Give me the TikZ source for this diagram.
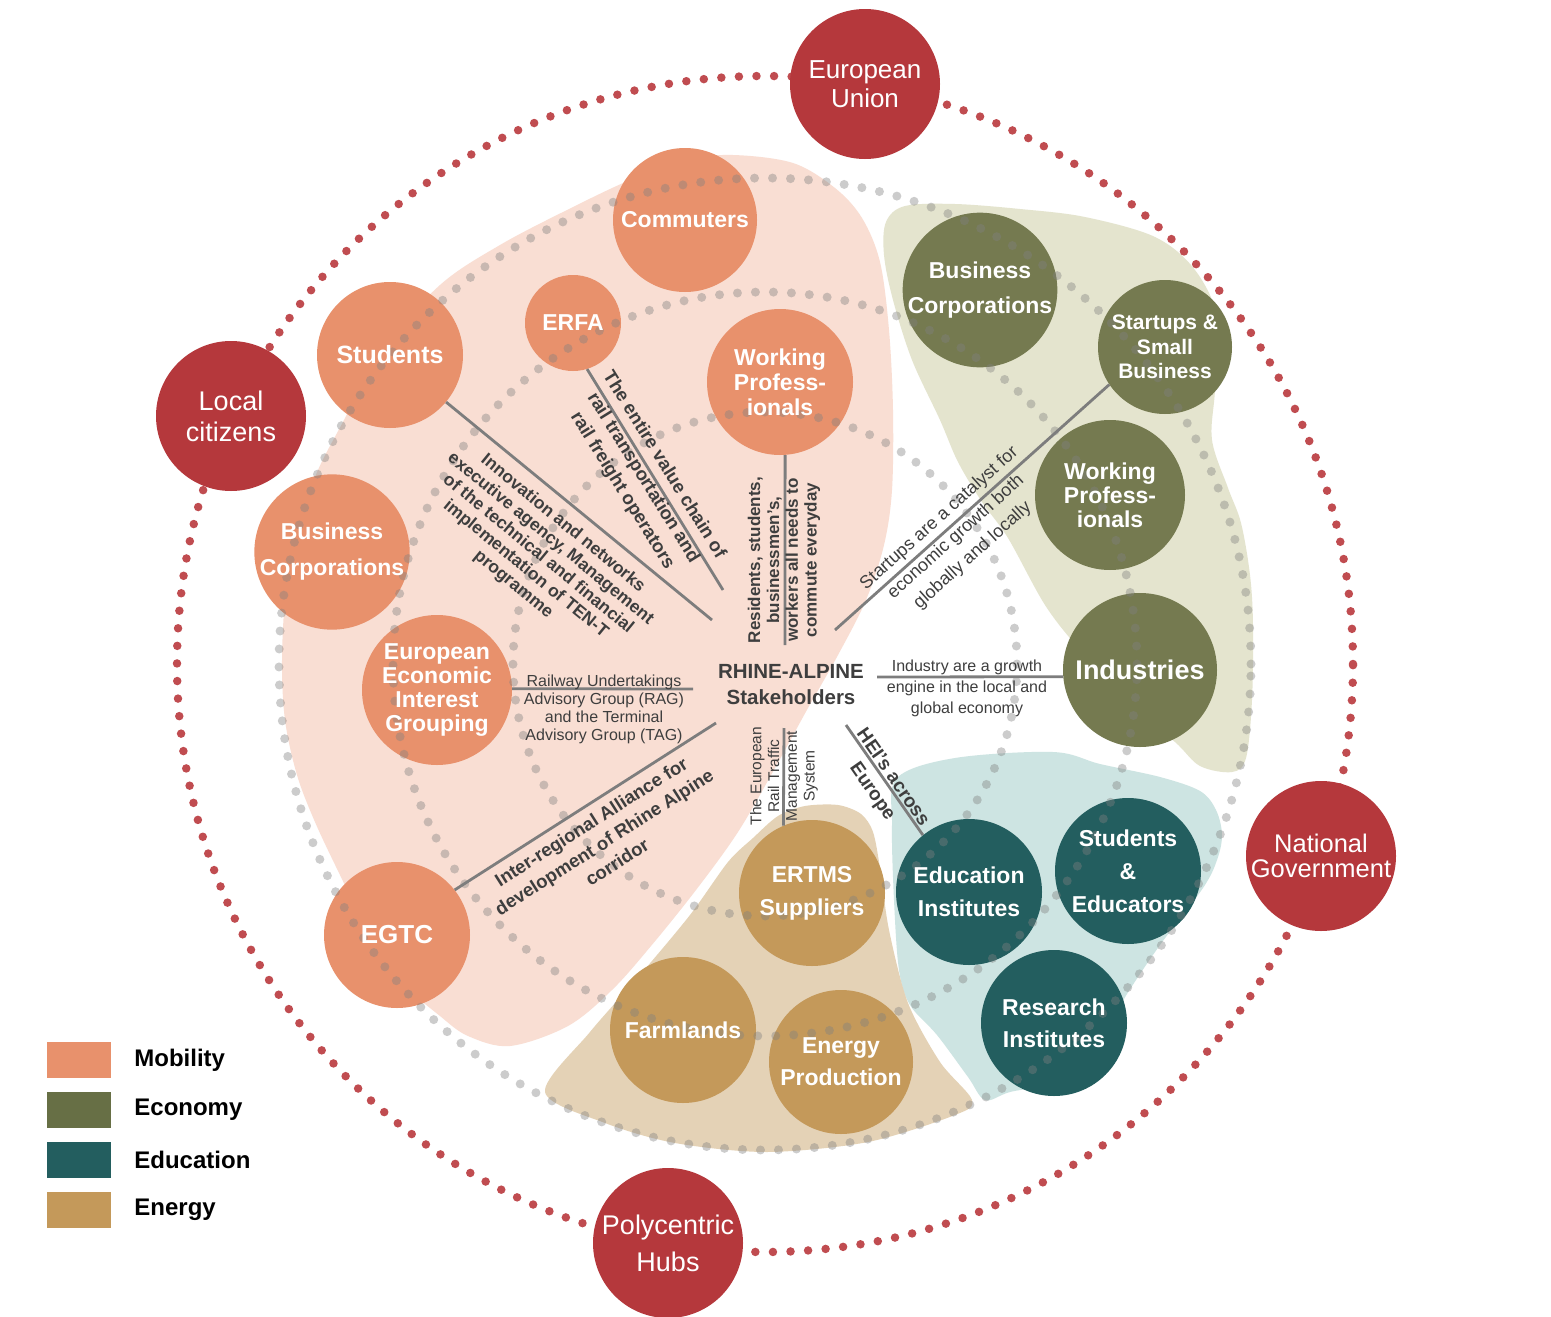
\documentclass[tikz,border=0pt]{standalone}
\usepackage{fontspec}
\setmainfont{Liberation Sans}
\usetikzlibrary{positioning, calc}

\definecolor{mobility}{RGB}{232,145,108}
\definecolor{mobilitybg}{RGB}{249,222,211}
\definecolor{economy}{RGB}{117,122,80}
\definecolor{economybg}{RGB}{228,228,206}
\definecolor{economykey}{RGB}{103,111,69}
\definecolor{education}{RGB}{35,94,95}
\definecolor{educationbg}{RGB}{205,228,226}
\definecolor{energy}{RGB}{196,153,90}
\definecolor{energybg}{RGB}{228,210,182}
\definecolor{gov}{RGB}{181,56,60}
\definecolor{govdot}{RGB}{192,76,80}
\definecolor{spokegray}{RGB}{125,125,125}
\definecolor{labelgray}{RGB}{62,62,62}

\newcommand{\pxfont}[2]{\fontsize{#1}{#2}\selectfont}

\tikzset{
  ringdots/.style={
    line width=9pt, line cap=round,
    dash pattern=on 0pt off 18pt,
    draw=black!50, draw opacity=0.40
  },
  govdots/.style={
    line width=8.5pt, line cap=round,
    dash pattern=on 0pt off 17.59pt, draw=govdot
  },
  dotsinside/.style={
    path picture={
      \foreach \ringr in {252,372,486}
        \draw[ringdots] (hubc) circle[radius=\ringr pt];
    }
  },
  stake/.style={
    circle, minimum size=146pt, inner sep=0pt,
    align=center, text=white,
    font=\bfseries\pxfont{23}{25}, dotsinside
  },
  mobnode/.style={stake, fill=mobility},
  econode/.style={stake, fill=economy},
  edunode/.style={stake, fill=education},
  enenode/.style={stake, fill=energy},
  govnode/.style={
    circle, minimum size=150pt, inner sep=0pt,
    align=center, text=white, fill=gov,
    font=\pxfont{26}{29}
  },
  spoke/.style={line width=2.8pt, draw=spokegray},
  spokelab/.style={
    text=labelgray, align=center, inner sep=0pt,
    font=\bfseries\pxfont{17.5}{19.6}
  },
  thinlab/.style={
    text=labelgray, align=center, inner sep=0pt,
    font=\pxfont{16}{18}
  },
  hubtext/.style={
    text=labelgray, align=center, inner sep=0pt,
    font=\bfseries\pxfont{20.5}{26}
  },
  keybox/.style={rectangle, minimum width=64pt, minimum height=36pt, inner sep=0pt},
  keytext/.style={font=\bfseries\pxfont{24}{26}, text=black, inner sep=0pt}
}

\begin{document}
\begin{tikzpicture}[x=1pt, y=-1pt]

\useasboundingbox (0,0) rectangle (1551,1317);
\fill[white] (0,0) rectangle (1551,1317);
\coordinate (hubc) at (765,664);

% ── Theme areas ─────────────────────────────────────────────
\fill[mobilitybg] plot[smooth cycle, tension=0.55] coordinates {
  (733,155) (793,163) (835,188) (862,218) (880,262) (889,330)
  (893,410) (892,490) (884,545) (866,600) (838,655) (808,708)
  (775,768) (738,832) (696,890) (651,946) (612,990) (568,1026)
  (510,1046) (468,1036) (440,1016) (405,985) (370,935) (340,875)
  (315,822) (297,775) (285,720) (282,660) (286,590) (298,525)
  (318,470) (344,420) (380,352) (440,285) (500,245) (567,210)
  (630,180) (685,160)};

\fill[economybg] plot[smooth cycle, tension=0.55] coordinates {
  (886,222) (905,206) (955,204) (1020,209) (1085,217) (1155,237)
  (1195,270) (1218,320) (1215,390) (1212,440) (1228,488) (1241,523)
  (1250,575) (1253,625) (1252,700) (1246,758) (1232,772) (1200,766)
  (1175,742) (1130,705) (1080,650) (1045,605) (1008,538) (982,502)
  (958,462) (940,420) (912,360) (893,300) (884,255)};

\fill[educationbg] plot[smooth cycle, tension=0.55] coordinates {
  (897,778) (955,758) (1053,752) (1100,764) (1160,777) (1200,791)
  (1216,810) (1222,835) (1217,860) (1203,888) (1160,945) (1127,994)
  (1100,1040) (1060,1080) (1010,1092) (985,1100) (968,1077)
  (937,1035) (910,1005) (899,970) (894,900) (892,825)};

\fill[energybg] plot[smooth cycle, tension=0.5] coordinates {
  (753,838) (778,816) (805,806) (838,805) (861,814) (873,832)
  (880,868) (889,930) (908,1003) (940,1062) (972,1100) (955,1115)
  (868,1142) (767,1152) (675,1143) (605,1123) (545,1092) (590,1032)
  (640,975) (690,915) (728,862)};

% ── Dotted rings ────────────────────────────────────────────
\draw[govdots] (hubc) circle[radius=588pt];
\foreach \ringr in {252,372,486}
  \draw[ringdots] (hubc) circle[radius=\ringr pt];

% ── Governance level ────────────────────────────────────────
\node[govnode] (eu) at (865,84) {European\\Union};
\node[govnode, font=\pxfont{27}{31}] (citizens) at (231,416) {Local\\citizens};
\node[govnode, font=\pxfont{25.5}{25}] (natgov) at (1321,856) {National\\Government};
\node[govnode, font=\pxfont{27}{37}] (hubs) at (668,1243) {Polycentric\\Hubs};

% ── Mobility ────────────────────────────────────────────────
\node[mobnode, minimum size=144pt] (commuters) at (685,220) {Commuters};
\node[mobnode, minimum size=96pt] (erfa) at (573,323) {ERFA};
\node[mobnode, font=\bfseries\pxfont{25}{27}] (students) at (390,355) {Students};
\node[mobnode] (workmob) at (780,382) {Working\\Profess-\\ionals};
\node[mobnode, minimum size=154pt, font=\bfseries\pxfont{23}{36}] (busmob) at (332,552)
  {Business\\Corporations};
\node[mobnode, minimum size=150pt, font=\bfseries\pxfont{23}{24}] (eeig) at (437,690)
  {European\\Economic\\Interest\\Grouping};
\node[mobnode, font=\bfseries\pxfont{26}{28}] (egtc) at (397,935) {EGTC};

% ── Economy ─────────────────────────────────────────────────
\node[econode, minimum size=154pt, font=\bfseries\pxfont{23}{35}] (buseco) at (980,290)
  {Business\\Corporations};
\node[econode, minimum size=134pt, font=\bfseries\pxfont{21}{24.5}] (startups) at (1165,347)
  {Startups \&\\Small\\Business};
\node[econode, minimum size=150pt, font=\bfseries\pxfont{23}{24}] (workeco) at (1110,495)
  {Working\\Profess-\\ionals};
\node[econode, minimum size=154pt, font=\bfseries\pxfont{27}{29}] (industries) at (1140,670)
  {Industries};

% ── Education ───────────────────────────────────────────────
\node[edunode, font=\bfseries\pxfont{23}{33}] (eduinst) at (969,892) {Education\\Institutes};
\node[edunode, font=\bfseries\pxfont{23}{33}] (studedu) at (1128,871) {Students\\\&\\Educators};
\node[edunode, font=\bfseries\pxfont{23}{32}] (research) at (1054,1023) {Research\\Institutes};

% ── Energy ──────────────────────────────────────────────────
\node[enenode, font=\bfseries\pxfont{23}{33}] (ertms) at (812,893) {ERTMS\\Suppliers};
\node[enenode] (farmlands) at (683,1030) {Farmlands};
\node[enenode, minimum size=144pt, font=\bfseries\pxfont{23}{32}] (energyprod) at (841,1062)
  {Energy\\Production};

% ── Hub ─────────────────────────────────────────────────────
\node[hubtext] (hub) at (791,685) {RHINE-ALPINE\\Stakeholders};

% ── Spokes ──────────────────────────────────────────────────
\coordinate (s-students)   at (712,620);
\coordinate (s-erfa)       at (723,590);
\coordinate (s-workmob)    at (785,645);
\coordinate (s-startups)   at (835,630);
\coordinate (s-industries) at (877,677);
\coordinate (s-eeig)       at (693,689);
\coordinate (s-egtc)       at (716,723);
\coordinate (s-ertms)      at (784,728);
\coordinate (s-edu)        at (846,725);

\draw[spoke] (s-students)   -- (students.-40);
\draw[spoke] (s-erfa)       -- (erfa.-73);
\draw[spoke] (s-workmob)    -- (workmob.-86);
\draw[spoke] (s-startups)   -- (startups.214);
\draw[spoke] (s-industries) -- (industries.185);
\draw[spoke] (s-eeig)       -- (eeig.1);
\draw[spoke] (s-egtc)       -- (egtc.38);
\draw[spoke] (s-ertms)      -- (ertms.113);
\draw[spoke] (s-edu)        -- (eduinst.129);

% ── Spoke labels ────────────────────────────────────────────
\node[spokelab, rotate=-39.3] (lab-students) at (538,554)
  {Innovation and networks\\executive agency, Management\\of the technical and financial\\
   implementation of TEN-T\\programme};
\node[spokelab, rotate=-58.2, font=\bfseries\pxfont{18.5}{24.5}] (lab-erfa) at (643,478)
  {The entire value chain of\\rail transportation and\\rail freight operators};
\node[spokelab, rotate=90, font=\bfseries\pxfont{17}{18.8}] (lab-workmob) at (784,560)
  {Residents, students,\\businessmen's,\\workers all needs to\\commute everyday};
\node[spokelab, rotate=41.9, font=\pxfont{18}{25}] (lab-startups) at (956,537)
  {Startups are a catalyst for\\economic growth both\\globally and locally};
\node[thinlab, font=\pxfont{16}{21}] (lab-industries) at (967,688)
  {Industry are a growth\\engine in the local and\\global economy};
\node[thinlab] (lab-eeig) at (604,709)
  {Railway Undertakings\\Advisory Group (RAG)\\and the Terminal\\Advisory Group (TAG)};
\node[spokelab, rotate=32.5, font=\bfseries\pxfont{18.5}{24}] (lab-egtc) at (604,842)
  {Inter-regional Alliance for\\development of Rhine Alpine\\corridor};
\node[thinlab, rotate=90, font=\pxfont{15.5}{17.7}] (lab-ertms) at (784,776)
  {The European\\Rail Traffic\\Management\\System};
\node[spokelab, rotate=-55.2, font=\bfseries\pxfont{19}{25}] (lab-edu) at (882,785)
  {HEI's across\\Europe};

% ── Legend ──────────────────────────────────────────────────
\node[keybox, fill=mobility]   (key-mob) at (79,1060) {};
\node[keybox, fill=economykey] (key-eco) at (79,1110) {};
\node[keybox, fill=education]  (key-edu) at (79,1160) {};
\node[keybox, fill=energy]     (key-ene) at (79,1210) {};

\node[keytext, right=23pt of key-mob] {Mobility};
\node[keytext, right=23pt of key-eco] {Economy};
\node[keytext, right=23pt of key-edu] {Education};
\node[keytext, right=23pt of key-ene] {Energy};

\end{tikzpicture}
\end{document}
